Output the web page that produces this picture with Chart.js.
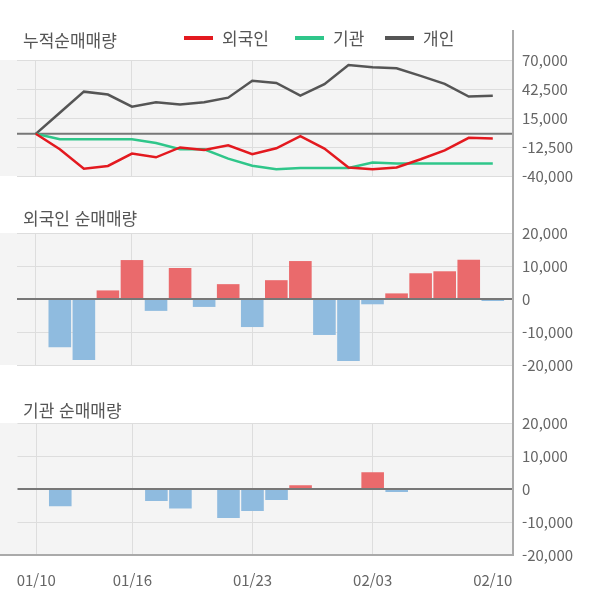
<!DOCTYPE html>
<html lang="ko">
<head>
<meta charset="utf-8">
<script src="https://cdn.jsdelivr.net/npm/chart.js@4"></script>
<style>
	body {
		margin: 0;
		width: 600px;
		height: 604px;
		position: relative;
		overflow: hidden;
		background: #fff;
		color: #555;
		font-family: "Noto Sans CJK KR", "Noto Sans", sans-serif;
	}
	canvas { position: absolute; left: 0; }
	.title { position: absolute; left: 23px; font-size: 17px; line-height: 20px; z-index: 2; }
	.item { position: absolute; top: 28px; height: 20px; font-size: 17px; line-height: 20px; display: flex; align-items: center; z-index: 2; }
	.item i { display: inline-block; width: 29px; height: 4px; margin-right: 9px; }
	.axis { position: absolute; left: 512px; top: 30px; width: 2px; height: 526px; background: #aaa; z-index: 2; }
</style>
</head>
<body>
<div class="title" style="top:30px">누적순매매량</div>
<div class="item" style="left:184px"><i style="background:#e3191f"></i>외국인</div>
<div class="item" style="left:295px"><i style="background:#2fc68a"></i>기관</div>
<div class="item" style="left:385px"><i style="background:#555"></i>개인</div>
<div class="title" style="top:208px">외국인 순매매량</div>
<div class="title" style="top:400px">기관 순매매량</div>
<div class="axis"></div>

<canvas id="c1" width="600" height="152" style="top:42px"></canvas>
<canvas id="c2" width="600" height="168" style="top:215px"></canvas>
<canvas id="c3" width="600" height="185" style="top:405px"></canvas>

<script>
const dates = ["01/10", "01/13", "01/14", "01/15", "01/16", "01/17", "01/20", "01/21", "01/22", "01/23",
	"01/28", "01/29", "01/30", "01/31", "02/03", "02/04", "02/05", "02/06", "02/07", "02/10"];
const tickIndex = [0, 4, 9, 14, 19];

// 누적 (cumulative)
const foreignTotal = [0, -14600, -33100, -30500, -18700, -22300, -12900, -15300, -10900, -19400,
	-13700, -2200, -14000, -32000, -33600, -31900, -24100, -15700, -3800, -4400];
const instTotal = [0, -5200, -5200, -5200, -5200, -8800, -14700, -14700, -23500, -30200,
	-33500, -32400, -32400, -32400, -27300, -28200, -28200, -28200, -28200, -28200];
const personTotal = [0, 20000, 40000, 37200, 25800, 29900, 27700, 29900, 34300, 50400,
	48300, 36200, 47000, 65300, 63100, 62100, 54900, 47300, 35300, 36200];

// 일별 순매매
const foreignDaily = [0, -14600, -18500, 2600, 11800, -3600, 9400, -2400, 4500, -8500,
	5700, 11500, -10900, -18800, -1600, 1700, 7800, 8400, 11900, -600];
const instDaily = [0, -5200, 0, 0, 0, -3600, -5900, 0, -8800, -6700,
	-3300, 1100, 0, 0, 5100, -900, 0, 0, 0, 0];

const family = "'Noto Sans CJK KR', 'Noto Sans', sans-serif";

const panel = {
	id: "panel",
	beforeDraw(chart) {
		const { ctx, chartArea } = chart;
		ctx.save();
		ctx.fillStyle = "#f4f4f4";
		ctx.fillRect(0, chartArea.top, chartArea.right, chartArea.bottom - chartArea.top);
		ctx.restore();
	},
	beforeDatasetsDraw(chart, args, opts) {
		if (!opts.zeroOnTop) zeroLine(chart);
	},
	afterDatasetsDraw(chart, args, opts) {
		if (opts.zeroOnTop) zeroLine(chart);
		if (opts.baseLine) {
			const { ctx, chartArea } = chart;
			ctx.save();
			ctx.strokeStyle = "#aaa";
			ctx.lineWidth = 2;
			ctx.beginPath();
			ctx.moveTo(0, chartArea.bottom);
			ctx.lineTo(chartArea.right, chartArea.bottom);
			ctx.stroke();
			ctx.restore();
		}
	}
};

function zeroLine(chart) {
	const { ctx, chartArea, scales } = chart;
	const y = scales.y.getPixelForValue(0);
	ctx.save();
	ctx.strokeStyle = "#777";
	ctx.lineWidth = 2;
	ctx.beginPath();
	ctx.moveTo(chartArea.left, y);
	ctx.lineTo(chartArea.right, y);
	ctx.stroke();
	ctx.restore();
}

function xScale(showLabels) {
	return {
		type: "linear",
		min: -0.78,
		max: 19.84,
		offset: false,
		afterBuildTicks: scale => { scale.ticks = tickIndex.map(v => ({ value: v })); },
		afterFit: scale => { scale.height = showLabels ? 35 : 0; },
		grid: {
			offset: false,
			color: c => c.tick && c.tick.value === 19 ? "transparent" : "#dddddd",
			drawTicks: false
		},
		border: { display: false },
		ticks: {
			display: showLabels,
			autoSkip: false,
			maxRotation: 0,
			padding: 16,
			color: "#666",
			font: { size: 15, family },
			callback: v => dates[v]
		}
	};
}

function yScale(min, max, step) {
	return {
		position: "right",
		min,
		max,
		afterFit: scale => { scale.width = 87; },
		grid: {
			color: c => c.tick && c.tick.value === 0 ? "transparent" : "#dddddd",
			drawTicks: false
		},
		border: { display: false },
		ticks: {
			stepSize: step,
			padding: 9,
			color: "#666",
			font: { size: 15, family },
			callback: v => v.toLocaleString("en-US")
		}
	};
}

function points(values) {
	return values.map((v, i) => ({ x: i, y: v }));
}

function baseOptions(x, y, panelOpts, bottom) {
	return {
		responsive: false,
		animation: false,
		devicePixelRatio: 1,
		layout: { padding: { top: 15, bottom: bottom, left: 17, right: 0 } },
		scales: { x, y },
		plugins: {
			legend: { display: false },
			tooltip: { enabled: false },
			panel: panelOpts
		}
	};
}

function lineSet(values, color) {
	return {
		data: points(values),
		borderColor: color,
		borderWidth: 2.5,
		pointRadius: 0,
		tension: 0
	};
}

function barSet(values) {
	return {
		data: points(values),
		backgroundColor: values.map(v => v >= 0 ? "#ea6a6c" : "#8fbbdf"),
		categoryPercentage: 1,
		barPercentage: 0.94
	};
}

new Chart(document.getElementById("c1"), {
	type: "line",
	data: {
		datasets: [
			lineSet(foreignTotal, "#e3191f"),
			lineSet(instTotal, "#2fc68a"),
			lineSet(personTotal, "#555555")
		]
	},
	options: baseOptions(xScale(false), yScale(-40000, 70000, 27500), { zeroOnTop: false }, 15),
	plugins: [panel]
});

new Chart(document.getElementById("c2"), {
	type: "bar",
	data: { datasets: [barSet(foreignDaily)] },
	options: baseOptions(xScale(false), yScale(-20000, 20000, 10000), { zeroOnTop: true }, 15),
	plugins: [panel]
});

new Chart(document.getElementById("c3"), {
	type: "bar",
	data: { datasets: [barSet(instDaily)] },
	options: baseOptions(xScale(true), yScale(-20000, 20000, 10000), { zeroOnTop: true, baseLine: true }, 0),
	plugins: [panel]
});
</script>
</body>
</html>
